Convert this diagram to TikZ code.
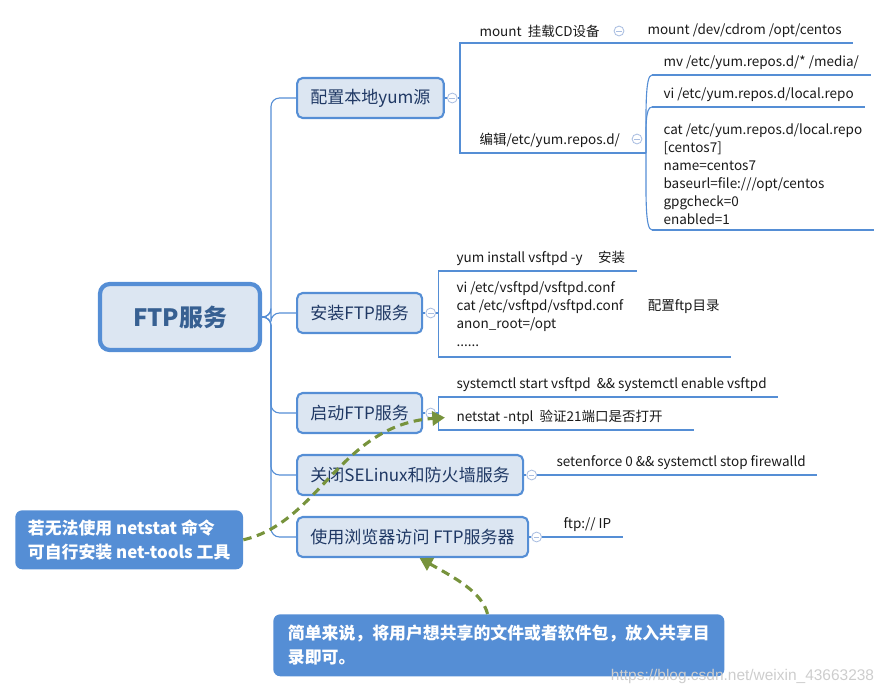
\documentclass[tikz,border=0pt]{standalone}
\usepackage{fontspec}
\setmainfont{Noto Sans CJK SC}
\newfontfamily\wmfont{Liberation Sans}
\usepackage{xcolor}
\definecolor{mmblue}{RGB}{85,142,213}
\definecolor{mmfill}{RGB}{220,230,242}
\definecolor{mmtext}{RGB}{31,56,100}
\definecolor{mmtitle}{RGB}{55,96,146}
\definecolor{mmgreen}{RGB}{119,147,60}
\definecolor{mmcircle}{RGB}{170,190,225}
\definecolor{mmgray}{RGB}{205,205,205}
\usetikzlibrary{arrows.meta, positioning, calc}

\tikzset{
  root/.style={draw=mmblue, fill=mmfill, line width=3pt, rounded corners=7pt,
    minimum width=4cm, minimum height=1.65cm, font=\bfseries\fontsize{17}{20}\selectfont, text=mmtitle},
  topic/.style={draw=mmblue, fill=mmfill, line width=1.5pt, rounded corners=4pt, anchor=west,
    minimum height=1cm, inner xsep=9.5pt, font=\fontsize{12.1}{15}\selectfont, text=mmtext},
  leaf/.style={anchor=south west, align=left, inner xsep=8pt, inner ysep=3.5pt,
    font=\fontsize{9.6}{12.8}\selectfont, text=black!90,
    append after command={(\tikzlastnode.south west) edge[draw=mmblue, line width=2pt] (\tikzlastnode.south east)}},
  conn/.style={draw=mmblue, line width=0.8pt},
  fold/.style={circle, draw=mmcircle, fill=white, line width=0.6pt, minimum size=7pt, inner sep=0pt,
    path picture={\draw[mmcircle, line width=0.6pt]
      ([xshift=-2pt]path picture bounding box.center) -- ([xshift=2pt]path picture bounding box.center);}},
  note/.style={fill=mmblue, rounded corners=5pt, text=white, align=left, anchor=north west,
    inner xsep=9pt, font=\bfseries\fontsize{12}{17}\selectfont},
  hint/.style={draw=mmgreen, line width=2.2pt, dash pattern=on 6pt off 4pt,
    -{Triangle[length=9pt,width=10pt]}},
}

\begin{document}
\begin{tikzpicture}[x=0.025cm, y=-0.025cm]
  \useasboundingbox (0,0) rectangle (889,693);

  % centre and main topics
  \node[root] (ftp) at (180,317) {FTP服务};
  \coordinate (sp) at (271,317);
  \node[topic] (b1) at (296,98) {配置本地yum源};
  \node[topic] (b2) at (296,313) {安装FTP服务};
  \node[topic] (b3) at (296,413) {启动FTP服务};
  \node[topic] (b4) at (296,475) {关闭SELinux和防火墙服务};
  \node[topic] (b5) at (296,537) {使用浏览器访问 FTP服务器};

  \foreach \b in {b1,b2,b3,b4,b5}
    \draw[conn, rounded corners=6pt] (ftp.east) -- (sp) |- (\b.west);

  \node[fold, right=1.5pt of b1] (f1) {};
  \node[fold, right=1.5pt of b2] (f2) {};
  \node[fold, right=1.5pt of b3] (f3) {};
  \node[fold, right=1.5pt of b4] (f4) {};
  \node[fold, right=1.5pt of b5] (f5) {};
  \foreach \n in {1,...,5}
    \draw[conn] (b\n) -- (f\n);

  % yum source
  \coordinate (j1) at (460,98);
  \node[leaf] (l11) at (468,43) {mount\ \ 挂载CD设备};
  \node[leaf] (l12) at (468,153) {编辑/etc/yum.repos.d/};
  \draw[conn] (f1) -- (j1) |- (l11.south west);
  \draw[conn] (j1) |- (l12.south west);
  \node[fold] (f11) at (619,31) {};
  \node[leaf] (l111) at (636,43) {mount /dev/cdrom /opt/centos};
  \draw[conn] (l11.south east) -- (l111.south west);

  \node[fold] (f12) at (637,139) {};
  \coordinate (j12) at (646,153);
  \node[leaf] (l121) at (652,75) {mv /etc/yum.repos.d/* /media/};
  \node[leaf] (l122) at (652,107) {vi /etc/yum.repos.d/local.repo};
  \node[leaf] (l123) at (652,230) {cat /etc/yum.repos.d/local.repo\\{}[centos7]\\name=centos7\\
    baseurl=file:///opt/centos\\gpgcheck=0\\enabled=1};
  \draw[conn] (l12.south east) -- (j12);
  \draw[conn] (j12) to[out=90,in=180,out distance=30pt,in distance=5pt] (l121.south west);
  \draw[conn] (j12) to[out=90,in=180,out distance=18pt,in distance=5pt] (l122.south west);
  \draw[conn] (j12) to[out=-90,in=180,out distance=30pt,in distance=5pt] (l123.south west);

  % install
  \coordinate[right=2pt of f2] (j2);
  \node[leaf] (l21) at (445,271) {\makebox[100.7pt][l]{yum install vsftpd -y}安装};
  \node[leaf] (l22) at (445,357) {vi /etc/vsftpd/vsftpd.conf\\
    \makebox[136pt][l]{cat /etc/vsftpd/vsftpd.conf}配置ftp目录\\anon\_root=/opt\\......\strut};
  \draw[conn] (f2) -- (j2) |- (l21.south west);
  \draw[conn] (j2) |- (l22.south west);

  % start
  \coordinate[right=2pt of f3] (j3);
  \node[leaf] (l31) at (445,397) {systemctl start vsftpd\ \ \&\& systemctl enable vsftpd};
  \node[leaf] (l32) at (445,430) {netstat -ntpl\ \ 验证21端口是否打开\hspace*{14pt}};
  \draw[conn] (f3) -- (j3) |- (l31.south west);
  \draw[conn] (j3) |- (l32.south west);

  % firewall
  \node[leaf] (l41) at (545,475) {setenforce 0 \&\& systemctl stop firewalld};
  \draw[conn] (f4) -- (l41.south west);

  % browser
  \node[leaf] (l51) at (552,537) {ftp:// IP};
  \draw[conn] (f5) -- (l51.south west);

  % notes
  \node[note, minimum height=1.475cm] (n1) at (15,510) {若无法使用 netstat 命令\\可自行安装 net-tools 工具};
  \node[note, minimum height=1.55cm, minimum width=11.275cm] (n2) at (273,614)
    {简单来说，将用户想共享的文件或者软件包，放入共享目\\录即可。};
  \draw[hint] (n1.east) .. controls (320,522) and (340,425) .. (l32.west);
  \draw[hint] ([xshift=-8pt]n2.north) .. controls (482,592) and (455,578) .. ([xshift=5pt]b5.south);

  \node[anchor=west, text=mmgray, font=\wmfont\fontsize{11}{11}\selectfont] (wm) at (606,676)
    {https://blog.csdn.net/weixin\_43663238};
\end{tikzpicture}
\end{document}
